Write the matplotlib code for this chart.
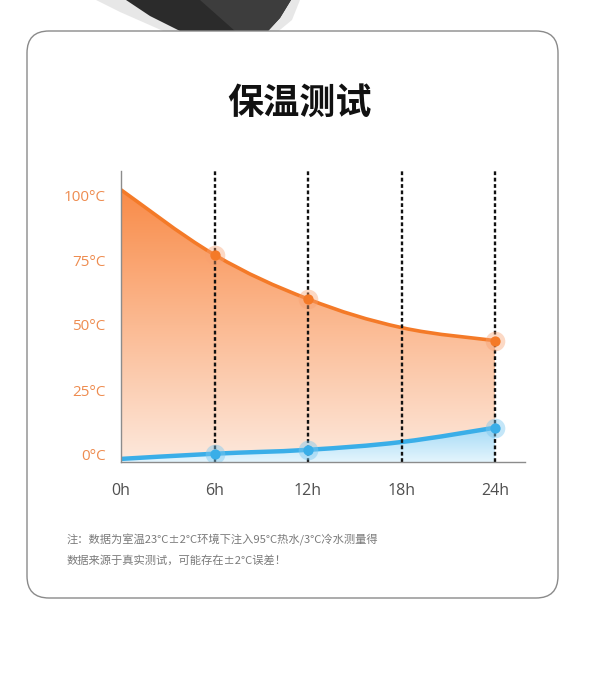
import numpy as np
import matplotlib
matplotlib.use('Agg')
import matplotlib.pyplot as plt
from matplotlib.path import Path
from matplotlib.patches import PathPatch, FancyBboxPatch, Polygon

plt.rcParams['font.family'] = ['Noto Sans CJK SC', 'DejaVu Sans']

# ---- data ----
hours = [0, 6, 12, 18, 24]
hour_labels = ['0h', '6h', '12h', '18h', '24h']
hot_temp = [102, 77, 60, 49, 44]
cold_temp = [-1.5, 0.5, 2, 5, 10.5]
marker_hours = [6, 12, 24]
temp_ticks = [0, 25, 50, 75, 100]
temp_labels = ['0°C', '25°C', '50°C', '75°C', '100°C']
title = '保温测试'
notes = ['注：数据为室温23°C±2°C环境下注入95°C热水/3°C冷水测量得',
         '数据来源于真实测试，可能存在±2°C误差！']

W, H = 600, 673
fig = plt.figure(figsize=(6, 6.73), dpi=100)

# background layer in pixel coords
bg = fig.add_axes([0, 0, 1, 1])
bg.set_xlim(0, W)
bg.set_ylim(H, 0)
bg.axis('off')

# product photo peeking over the card
bg.add_patch(Polygon([(96, 0), (300, 0), (292, 20), (275, 34), (170, 34), (120, 12)],
                     closed=True, color='#d8d8d8', lw=0, alpha=0.6))
bg.add_patch(Polygon([(126, 0), (291, 0), (280, 18), (268, 31), (180, 31), (150, 16)],
                     closed=True, color='#2b2b2b', lw=0))
bg.add_patch(Polygon([(200, 0), (291, 0), (280, 18), (268, 31), (235, 31)],
                     closed=True, color='#3d3d3d', lw=0))

card = FancyBboxPatch((27, 31), 531, 567, boxstyle='round,pad=0,rounding_size=22',
                      fc='white', ec='#8a8a8a', lw=1.0)
bg.add_patch(card)

bg.text(300, 103, title, ha='center', va='center', fontsize=26, fontweight='bold', color='#111111')
bg.text(67, 540, notes[0], ha='left', va='center', fontsize=8.1, color='#7a7a7a')
bg.text(67, 560, notes[1], ha='left', va='center', fontsize=8.1, color='#7a7a7a')

# ---- chart ----
x0, x1, ytop, ybot = 121, 525, 171, 462
ax = fig.add_axes([x0 / W, (H - ybot) / H, (x1 - x0) / W, (ybot - ytop) / H])
xmax = (x1 - x0) / (374 / 24)
ymin = -(ybot - 455) / 2.6
ymax = (455 - ytop) / 2.6
ax.patch.set_alpha(0)


def smooth_path(xs, ys, t=0.18):
    # cubic bezier segments through the data points (Catmull-Rom style handles)
    xs = np.asarray(xs, float)
    ys = np.asarray(ys, float)
    n = len(xs)
    verts = [(xs[0], ys[0])]
    codes = [Path.MOVETO]
    for i in range(n - 1):
        p0 = np.array([xs[max(i - 1, 0)], ys[max(i - 1, 0)]])
        p1 = np.array([xs[i], ys[i]])
        p2 = np.array([xs[i + 1], ys[i + 1]])
        p3 = np.array([xs[min(i + 2, n - 1)], ys[min(i + 2, n - 1)]])
        c1 = p1 + (p2 - p0) * t
        c2 = p2 - (p3 - p1) * t
        verts += [tuple(c1), tuple(c2), tuple(p2)]
        codes += [Path.CURVE4] * 3
    return verts, codes


def gradient_fill(xs, ys, c_top, c_bot, zorder):
    verts, codes = smooth_path(xs, ys)
    verts = verts + [(xs[-1], ymin), (xs[0], ymin), (xs[0], ys[0])]
    codes = codes + [Path.LINETO, Path.LINETO, Path.CLOSEPOLY]
    patch = PathPatch(Path(verts, codes), fc='none', ec='none')
    ax.add_patch(patch)
    top = np.array(matplotlib.colors.to_rgb(c_top))
    bot = np.array(matplotlib.colors.to_rgb(c_bot))
    g = np.linspace(0, 1, 256)[:, None]
    img = top[None, None, :] * (1 - g[..., None]) + bot[None, None, :] * g[..., None]
    im = ax.imshow(img, extent=[xs[0], xs[-1], ymin, max(ys)], origin='upper',
                   aspect='auto', zorder=zorder, interpolation='bilinear')
    im.set_clip_path(patch)
    line = PathPatch(Path(*smooth_path(xs, ys)), fc='none', zorder=zorder + 0.5)
    ax.add_patch(line)
    return line


hot_line = gradient_fill(hours, hot_temp, '#f98b48', '#fde9dd', 1)
hot_line.set_edgecolor('#f47a28')
hot_line.set_linewidth(2.6)
cold_line = gradient_fill(hours, cold_temp, '#a4daf6', '#e4f5fd', 3)
cold_line.set_edgecolor('#3aaee8')
cold_line.set_linewidth(3.2)

ax.set_xlim(0, xmax)
ax.set_ylim(ymin, ymax)

for h in hours[1:]:
    ax.plot([h, h], [ymin, ymax], color='#111111', lw=1.7, ls=(0, (1.6, 1.1)), zorder=5)

hot_m = [hot_temp[hours.index(h)] for h in marker_hours]
cold_m = [cold_temp[hours.index(h)] for h in marker_hours]
ax.scatter(marker_hours, hot_m, s=200, color='#f8a070', alpha=0.4, lw=0, zorder=6)
ax.scatter(marker_hours, hot_m, s=55, color='#f47a28', lw=0, zorder=7)
ax.scatter(marker_hours, cold_m, s=200, color='#7cc8f0', alpha=0.45, lw=0, zorder=6)
ax.scatter(marker_hours, cold_m, s=55, color='#3aaee8', lw=0, zorder=7)

ax.set_yticks(temp_ticks)
ax.set_yticklabels(temp_labels, color='#ee8c50', fontsize=11, family='Open Sans')
ax.set_xticks(hours)
ax.set_xticklabels(hour_labels, color='#505050', fontsize=11.5, family='Open Sans')
ax.tick_params(axis='y', length=0, pad=11)
ax.tick_params(axis='x', length=0, pad=15)
for s in ['top', 'right']:
    ax.spines[s].set_visible(False)
for s in ['left', 'bottom']:
    ax.spines[s].set_color('#8c8c8c')
    ax.spines[s].set_linewidth(1.0)
    ax.spines[s].set_zorder(8)

fig.savefig('out.png', dpi=100)
